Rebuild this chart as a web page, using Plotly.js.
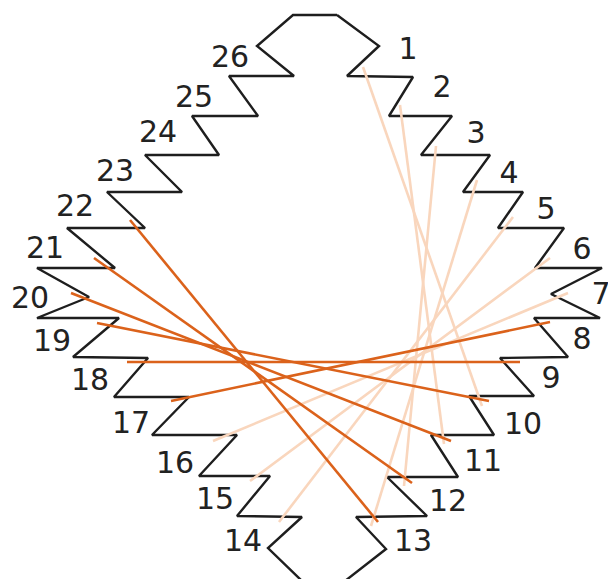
<!DOCTYPE html>
<html>
<head>
<meta charset="utf-8">
<script src="https://cdn.plot.ly/plotly-3.0.1.min.js"></script>
<style>html,body{margin:0;padding:0;background:#fff;}#chart{width:608px;height:579px;}</style>
</head>
<body>
<div id="chart"></div>
<script>
// Outline vertices (right side, top to bottom)
const rightX = [337,379,347,413,389,452,421,490,463,523,498,564,535,602,551,600,534,568,500,534,469,494,431,458,387,427,356,386,345];
const rightY = [15,46,76,77,116,116,155,155,192,192,228,228,268,268,294,318,318,357,358,396,396,435,435,477,477,516,517,549,581];
// Outline vertices (left side, top to bottom)
const leftX = [293,257,294,229,258,192,219,145,182,107,145,67,115,37,89,37,119,73,148,114,189,152,237,199,270,237,302,268,302];
const leftY = [15,46,76,76,116,116,155,155,192,192,228,228,268,268,297,318,318,357,358,397,397,435,435,476,476,516,517,548,581];

// Node labels
const labels = ["1","2","3","4","5","6","7","8","9","10","11","12","13","14","15","16","17","18","19","20","21","22","23","24","25","26"];
const labelX = [408,442,476,509,546,582,601,582,551,523,483,448,413,243,215,175,131,90,52,30,45,75,115,158,194,230];
const labelY = [51,89,135,175,211,251,296,341,380,426,463,503,543,543,501,465,425,382,343,300,250,208,173,134,99,59];

// Light links: source node -> target node, endpoints in the notches
const lightFrom = ["1","2","3","4","5","6","7"];
const lightTo = ["10","11","12","13","14","15","16"];
const lightX0 = [363,400,436,477,513,550,568];
const lightY0 = [67,105,146,180,217,258,293];
const lightX1 = [482,444,404,371,279,250,213];
const lightY1 = [406,444,486,526,522,481,441];

// Dark links
const darkFrom = ["22","21","20","19","18","17"];
const darkTo = ["13","12","11","10","9","8"];
const darkX0 = [130,94,71,97,127,171];
const darkY0 = [220,258,293,323,362,401];
const darkX1 = [378,412,451,489,520,550];
const darkY1 = [522,483,441,401,362,322];

const outX = rightX.concat(leftX.slice().reverse());
const outY = rightY.concat(leftY.slice().reverse());
outX.push(rightX[0]); outY.push(rightY[0]);

function linkTrace(x0,y0,x1,y1,color){
  const xs=[], ys=[];
  for(let i=0;i<x0.length;i++){ xs.push(x0[i],x1[i],null); ys.push(y0[i],y1[i],null); }
  return {type:'scatter',mode:'lines',x:xs,y:ys,line:{color:color,width:2.6},hoverinfo:'skip',showlegend:false,cliponaxis:false};
}

const traces = [
  {type:'scatter',mode:'lines',x:outX,y:outY,line:{color:'#1e1e1e',width:2.4},hoverinfo:'skip',showlegend:false},
  linkTrace(lightX0,lightY0,lightX1,lightY1,'#f9d6bd'),
  linkTrace(darkX0,darkY0,darkX1,darkY1,'#db621b'),
  {type:'scatter',mode:'text',x:labelX,y:labelY,text:labels,textposition:'middle center',
   textfont:{family:'DejaVu Sans, sans-serif',size:30,color:'#222'},hoverinfo:'skip',showlegend:false,cliponaxis:false}
];

const layout = {
  width:608,height:579,
  margin:{l:0,r:0,t:0,b:0},
  paper_bgcolor:'#fff',plot_bgcolor:'#fff',
  xaxis:{range:[0,608],visible:false,fixedrange:true},
  yaxis:{range:[579,0],visible:false,fixedrange:true},
  showlegend:false
};
Plotly.newPlot('chart',traces,layout,{staticPlot:true,displayModeBar:false});
</script>
</body>
</html>
